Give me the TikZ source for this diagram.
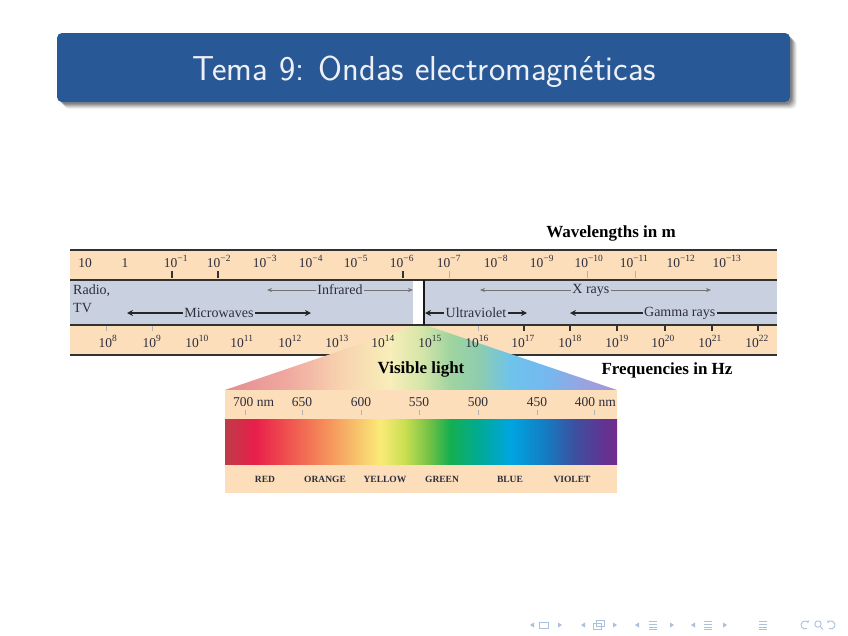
\documentclass[tikz,border=0pt]{standalone}
\usepackage{fontspec}
\newfontfamily\figfont{Liberation Serif}
\usetikzlibrary{arrows.meta}
\definecolor{titleblue}{RGB}{40,88,150}
\definecolor{titletext}{RGB}{238,240,246}
\definecolor{peach}{RGB}{253,222,186}
\definecolor{bandblue}{RGB}{201,209,224}
\definecolor{figtext}{RGB}{45,45,60}
\definecolor{bandline}{RGB}{50,50,50}
\definecolor{navblue}{RGB}{172,192,222}
% spectrum colours
\definecolor{s1}{RGB}{190,60,72}
\definecolor{s2}{RGB}{232,30,75}
\definecolor{s3}{RGB}{240,85,80}
\definecolor{s4}{RGB}{245,150,92}
\definecolor{s5}{RGB}{248,200,110}
\definecolor{s6}{RGB}{250,235,120}
\definecolor{s7}{RGB}{200,222,80}
\definecolor{s8}{RGB}{110,192,70}
\definecolor{s9}{RGB}{20,175,80}
\definecolor{s10}{RGB}{0,170,150}
\definecolor{s11}{RGB}{0,165,225}
\definecolor{s12}{RGB}{20,125,195}
\definecolor{s13}{RGB}{60,80,160}
\definecolor{s14}{RGB}{100,50,145}
\definecolor{s15}{RGB}{112,45,140}
% faded colours
\definecolor{f1}{RGB}{228,140,145}
\definecolor{f2}{RGB}{240,170,160}
\definecolor{f3}{RGB}{248,210,175}
\definecolor{f4}{RGB}{248,238,185}
\definecolor{f5}{RGB}{215,230,170}
\definecolor{f6}{RGB}{160,212,160}
\definecolor{f7}{RGB}{140,205,175}
\definecolor{f8}{RGB}{110,195,235}
\definecolor{f9}{RGB}{115,185,240}
\definecolor{f10}{RGB}{150,165,225}
\definecolor{f11}{RGB}{170,150,215}
\pgfdeclarehorizontalshading{specbar}{100bp}{color(0bp)=(s1); color(25bp)=(s1); color(28.8bp)=(s2); color(33.3bp)=(s3); color(38.4bp)=(s4); color(42.2bp)=(s5); color(44.8bp)=(s6); color(48bp)=(s7); color(51.2bp)=(s8); color(53.7bp)=(s9); color(57.5bp)=(s10); color(61.4bp)=(s11); color(65.8bp)=(s12); color(69.6bp)=(s13); color(73.5bp)=(s14); color(75bp)=(s15); color(100bp)=(s15)}
\pgfdeclarehorizontalshading{specfade}{100bp}{color(0bp)=(f1); color(25bp)=(f1); color(33.3bp)=(f2); color(39.7bp)=(f3); color(46bp)=(f4); color(49.9bp)=(f5); color(53.7bp)=(f6); color(57.5bp)=(f7); color(61.4bp)=(f8); color(65.8bp)=(f9); color(70.3bp)=(f10); color(75bp)=(f11); color(100bp)=(f11)}
\tikzset{
  ttl/.style={font=\sffamily\fontsize{34.6}{37}\selectfont, text=titletext, inner sep=0, anchor=base},
  num/.style={font=\figfont\fontsize{13.5}{14}\selectfont, text=figtext, inner sep=0, anchor=base},
  bandlabel/.style={font=\figfont\fontsize{14}{15}\selectfont, text=figtext, inner sep=1.5, fill=bandblue},
  heading/.style={font=\figfont\bfseries\fontsize{17}{18}\selectfont, text=black, inner sep=0, anchor=base},
  cname/.style={font=\figfont\bfseries\fontsize{9.5}{10}\selectfont, text=figtext, inner sep=0, anchor=base},
  bline/.style={draw=bandline, line width=2},
  thickarrow/.style={draw=black!85, line width=1.6, arrows={Stealth[length=6,width=6]-Stealth[length=6,width=6]}},
  thinarrow/.style={draw=black!55, line width=0.7, arrows={Stealth[length=5,width=4]-Stealth[length=5,width=4]}},
  dtick/.style={draw=black!80, line width=1.3},
  ltick/.style={draw=black!30, line width=0.8},
}
\begin{document}
\begin{tikzpicture}[x=1pt,y=-1pt]
\useasboundingbox (0,0) rectangle (848,635);
\fill[white] (0,0) rectangle (848,635);
% ---------- title bar ----------
\foreach \o/\op in {7/0.05,6/0.07,5/0.09,4/0.11,3/0.13,2/0.15}{
  \fill[black,opacity=\op,rounded corners=6] (57+\o,33+\o) rectangle (790+\o,102+\o);
}
\fill[titleblue,rounded corners=5] (57,33) rectangle (790,102);
\node[ttl] (title) at (424.5,80) {Tema 9: Ondas electromagnéticas};
% ---------- bands ----------
\fill[peach] (70,250) rectangle (777,280);
\fill[bandblue] (70,280) rectangle (777,325);
\fill[peach] (70,325) rectangle (777,355);
\fill[white] (413,281) rectangle (423,324);
\draw[bline] (70,250) -- (777,250);
\draw[bline] (70,280) -- (777,280);
\draw[bline] (70,325) -- (777,325);
\draw[bline] (70,355) -- (777,355);
\draw[draw=black!90, line width=1.8] (424,280) -- (424,325);
% ---------- visible-light fan ----------
\shade[shading=specfade] (413,326) -- (428,326) -- (617,390) -- (225,390) -- cycle;
% ---------- headings ----------
\node[heading] (wl) at (611,237) {Wavelengths in m};
\node[heading] (vl) at (421,373) {Visible light};
\node[heading] (fq) at (667,374) {Frequencies in Hz};
% ---------- wavelength labels ----------
\node[num] (w0) at (85,267) {10};
\node[num] (w1) at (125,267) {1};
\foreach \x/\e [count=\i from 2] in {176/1,219/2,265/3,311/4,356/5,402/6,449/7,496/8,542/9,589/10,634/11,681/12,727/13}{
  \node[num] (w\i) at (\x,267) {10\textsuperscript{−\e}};
}
\foreach \x in {172,218,403}{ \draw[dtick] (\x,271) -- (\x,278); }
\foreach \x in {449,587,635}{ \draw[ltick] (\x,271) -- (\x,278); }
% ---------- frequency labels ----------
\foreach \x/\e [count=\i] in {108/8,152/9,197/10,242/11,290/12,337/13,383/14,430/15,477/16,523/17,570/18,617/19,663/20,710/21,757/22}{
  \node[num] (f\i) at (\x,347) {10\textsuperscript{\e}};
}
\foreach \x in {106,152,478}{ \draw[ltick] (\x,326) -- (\x,331); }
\foreach \x in {524,570,617,665,712,758}{ \draw[dtick] (\x,326) -- (\x,331); }
% ---------- band ranges ----------
\node[font=\figfont\fontsize{14}{15}\selectfont, text=figtext, inner sep=0, anchor=base west] (radio) at (73,294) {Radio,};
\node[font=\figfont\fontsize{14}{15}\selectfont, text=figtext, inner sep=0, anchor=base west] (tv) at (73,312) {TV};
\coordinate (mwL) at (127,313); \coordinate (mwR) at (311,313);
\draw[thickarrow] (mwL) -- (mwR) node[bandlabel, midway] (mw) {Microwaves};
\coordinate (irL) at (267,290); \coordinate (irR) at (413,290);
\draw[thinarrow] (irL) -- (irR) node[bandlabel, midway] (ir) {Infrared};
\coordinate (uvL) at (425,313); \coordinate (uvR) at (527,313);
\draw[thickarrow] (uvL) -- (uvR) node[bandlabel, midway] (uv) {Ultraviolet};
\coordinate (xrL) at (480,290); \coordinate (xrR) at (711,290);
\draw[thinarrow] (xrL) -- (xrR) node[bandlabel, pos=0.48] (xr) {X rays};
\coordinate (grL) at (570,313); \coordinate (grR) at (777,313);
\draw[draw=black!85, line width=1.6, arrows={Stealth[length=6,width=6]-}] (grL) -- (grR) node[bandlabel, pos=0.53] (gr) {Gamma rays};
% ---------- visible light panel ----------
\fill[peach] (225,390) rectangle (617,493);
\shade[shading=specbar] (225,419) rectangle (617,464);
\foreach \x in {245,302,361,419,478,537,594}{ \draw[ltick] (\x,410) -- (\x,415); }
\node[num, anchor=base west] (n700) at (233,406) {700 nm};
\node[num] (n650) at (302,406) {650};
\node[num] (n600) at (361,406) {600};
\node[num] (n550) at (419,406) {550};
\node[num] (n500) at (478,406) {500};
\node[num] (n450) at (537,406) {450};
\node[num, anchor=base east] (n400) at (616,406) {400 nm};
\node[cname] (red) at (265,482) {RED};
\node[cname] (orange) at (325,482) {ORANGE};
\node[cname] (yellow) at (385,482) {YELLOW};
\node[cname] (green) at (442,482) {GREEN};
\node[cname] (blue) at (510,482) {BLUE};
\node[cname] (violet) at (572,482) {VIOLET};
% ---------- navigation symbols ----------
\begin{scope}[navblue, line width=0.9]
\foreach \x in {532,583,637,693}{ \fill (\x-2,625) -- (\x+2,622.5) -- (\x+2,627.5) -- cycle; }
\foreach \x in {560,615,672,725}{ \fill (\x+2,625) -- (\x-2,622.5) -- (\x-2,627.5) -- cycle; }
\draw (539,622) rectangle (548,628);
\draw (593,623) rectangle (601,629); \draw (596,620.5) rectangle (604,626.5);
\foreach \x in {653,708,763}{ \draw (\x-4,621) -- (\x+4,621); \draw (\x-4,624) -- (\x+4,624); \draw (\x-4,627) -- (\x+4,627); \draw (\x-4,629.5) -- (\x+4,629.5); }
\draw[-{Stealth[length=2.5,width=3]}] (805,625) ++(60:4) arc (60:330:4);
\draw (818,624) circle (3.2); \draw (820.3,626.5) -- (823,629.5);
\draw[-{Stealth[length=2.5,width=3]}] (831,625) ++(120:4) arc (120:-150:4);
\end{scope}
\end{tikzpicture}
\end{document}
